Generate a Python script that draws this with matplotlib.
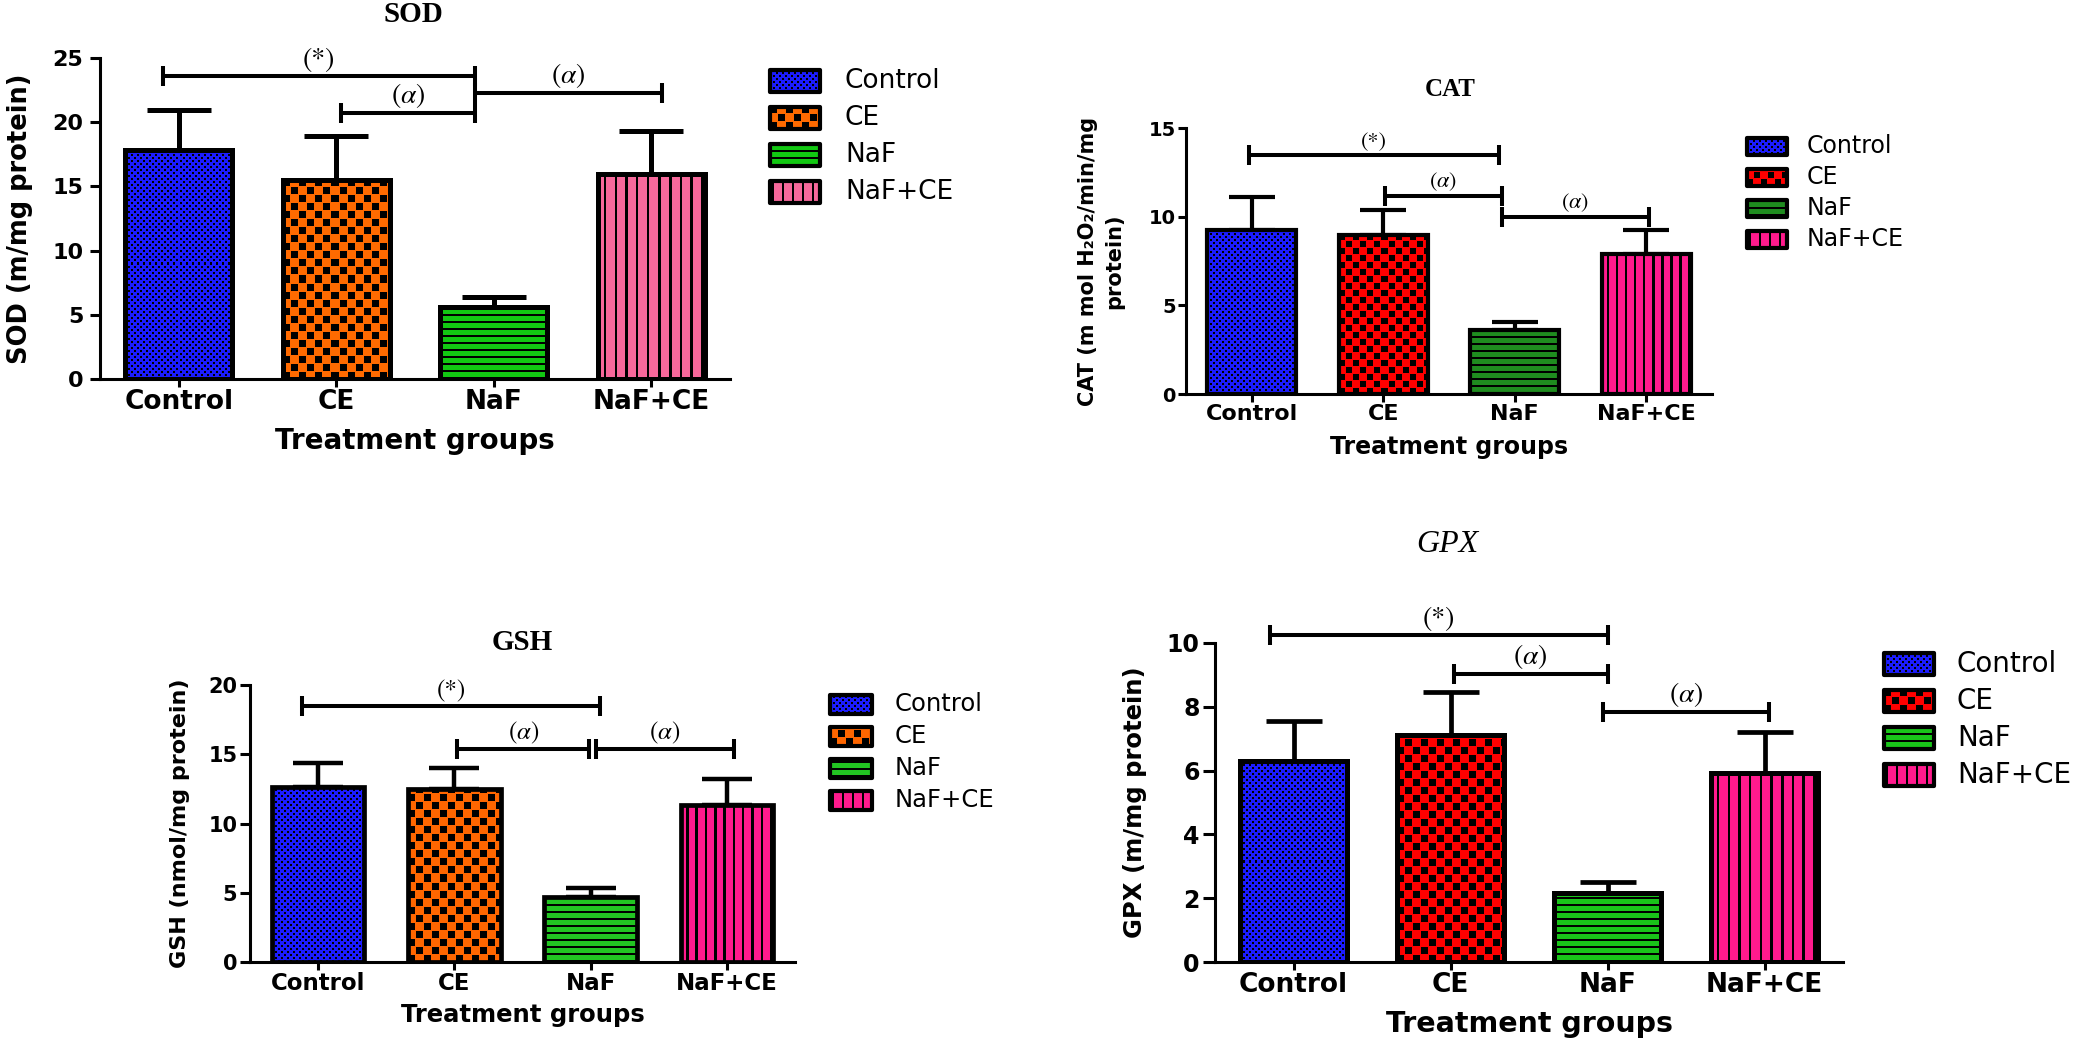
import numpy as np
import matplotlib
matplotlib.use('Agg')
import matplotlib.pyplot as plt
from matplotlib.colors import to_rgb
from matplotlib.patches import Rectangle

plt.rcParams['font.family'] = 'DejaVu Sans'
plt.rcParams['mathtext.fontset'] = 'stix'

# data (mean and upper error, per group)
groups = ['Control', 'CE', 'NaF', 'NaF+CE']
sod_mean = [17.85, 15.5, 5.6, 16.0]
sod_err = [3.1, 3.4, 0.75, 3.3]
cat_mean = [9.23, 8.95, 3.59, 7.91]
cat_err = [1.87, 1.41, 0.47, 1.36]
gsh_mean = [12.6, 12.52, 4.69, 11.3]
gsh_err = [1.75, 1.52, 0.65, 1.9]
gpx_mean = [6.31, 7.11, 2.16, 5.92]
gpx_err = [1.26, 1.36, 0.34, 1.28]

# significance brackets: (label, from x, to x, height)
sod_sig = [('*', -0.1, 1.88, 23.6), ('a', 1.03, 1.88, 20.7), ('a', 1.88, 3.07, 22.3)]
cat_sig = [('*', -0.02, 1.88, 13.5), ('a', 1.01, 1.9, 11.15), ('a', 1.9, 3.02, 10.0)]
gsh_sig = [('*', -0.12, 2.07, 18.5), ('a', 1.02, 1.99, 15.4), ('a', 2.04, 3.05, 15.4)]
gpx_sig = [('*', -0.15, 2.0, 10.26), ('a', 1.02, 2.0, 9.04), ('a', 1.97, 3.03, 7.84)]

W, H = 2091, 1042
kinds = ['fine', 'checker', 'hlines', 'vlines']


def texture(kind, color, w, h, cell=8):
    w = max(int(round(w)), 1)
    h = max(int(round(h)), 1)
    yy, xx = np.mgrid[0:h, 0:w]
    yy = h - 1 - yy
    if kind == 'fine':
        dark = ((xx // 3 + yy // 3) % 2 == 0) & (xx % 3 < 2) & (yy % 3 < 2)
    elif kind == 'checker':
        dark = ((xx // cell + yy // cell) % 2 == 0) & (xx % cell < cell - 1) & (yy % cell < cell - 1)
    elif kind == 'hlines':
        dark = (yy % 7) < 2
    else:
        per = max(w / 10.0, 6)
        dark = ((xx + per / 2) % per) < 2.5
    img = np.ones((h, w, 3)) * np.array(to_rgb(color))
    img[dark] = 0
    return img


fig = plt.figure(figsize=(W / 100, H / 100), dpi=100)

panels = [
    dict(mean=sod_mean, err=sod_err, sig=sod_sig, box=(100, 58, 730, 379), ymax=25, step=5,
         colors=['#1c1cff', '#ff6a00', '#12c812', '#f7689b'], cell=8,
         title='SOD', tpos=(413, 15), tfs=21, tstyle='normal',
         ylabel='SOD (m/mg protein)', ylx=20, xlab_y=441,
         xt=19, yt=16, xl=20, yl=18.5, sfs=20, blw=3.6, elw=3.6, cs=23, ylen=7, ypad=5,
         leg=dict(px=770, pw=50, ph=22, rows=81, dy=37, tx=845, fs=19)),
    dict(mean=cat_mean, err=cat_err, sig=cat_sig, box=(1186, 128, 1712, 394), ymax=15, step=5,
         colors=['#1c1cff', '#ff0000', '#1f8c1f', '#ff1a8d'], cell=7,
         title='CAT', tpos=(1450, 90), tfs=18, tstyle='normal',
         ylabel='CAT (m mol H\u2082O\u2082/min/mg\nprotein)', ylx=1101, xlab_y=447,
         xt=16, yt=14, xl=17, yl=15, sfs=16, blw=3.0, elw=3.0, cs=16.5, ylen=6, ypad=1.5,
         leg=dict(px=1747, pw=40, ph=17, rows=146, dy=31, tx=1807, fs=17)),
    dict(mean=gsh_mean, err=gsh_err, sig=gsh_sig, box=(250, 685, 795, 962), ymax=20, step=5,
         colors=['#1c1cff', '#ff6600', '#22c422', '#ff1a8d'], cell=8,
         title='GSH', tpos=(522, 643), tfs=21, tstyle='normal',
         ylabel='GSH (nmol/mg protein)', ylx=180, xlab_y=1015,
         xt=16.5, yt=15, xl=17.5, yl=16, sfs=18, blw=3.4, elw=3.2, cs=18, ylen=7, ypad=2,
         leg=dict(px=830, pw=42, ph=19, rows=704, dy=32, tx=895, fs=17.5)),
    dict(mean=gpx_mean, err=gpx_err, sig=gpx_sig, box=(1215, 643, 1843, 962), ymax=10, step=2,
         colors=['#1c1cff', '#ff0000', '#19c419', '#ff1a8d'], cell=8,
         title='GPX', tpos=(1447, 545), tfs=23, tstyle='italic',
         ylabel='GPX (m/mg protein)', ylx=1135, xlab_y=1024,
         xt=19, yt=17, xl=20.5, yl=17.5, sfs=20, blw=3.6, elw=3.4, cs=20.5, ylen=9, ypad=2,
         leg=dict(px=1884, pw=50, ph=22, rows=664, dy=37, tx=1957, fs=20)),
]

ov = fig.add_axes([0, 0, 1, 1])
ov.axis('off')
ov.set_zorder(10)

for p in panels:
    l, t, r, b = p['box']
    ax = fig.add_axes([l / W, 1 - b / H, (r - l) / W, (b - t) / H])
    x = np.arange(len(groups))
    ax.set_xlim(-0.5, 3.5)
    ax.set_ylim(0, p['ymax'])

    bars = ax.bar(x, p['mean'], width=0.68, facecolor='none', edgecolor='black',
                  linewidth=p['blw'], zorder=3)
    ax.errorbar(x, p['mean'], yerr=[np.zeros(len(x)), p['err']], fmt='none', ecolor='black',
                elinewidth=p['elw'], capsize=p['cs'], capthick=p['elw'], zorder=1)

    for bar, kind, col in zip(bars, kinds, p['colors']):
        x0, y0 = bar.get_x(), bar.get_y()
        x1, y1 = x0 + bar.get_width(), y0 + bar.get_height()
        (qx0, qy0), (qx1, qy1) = ax.transData.transform([(x0, y0), (x1, y1)])
        img = texture(kind, col, qx1 - qx0, qy1 - qy0, p['cell'])
        im = ax.imshow(img, extent=(x0, x1, y0, y1), aspect='auto',
                       interpolation='nearest', zorder=2)
        im.set_clip_path(bar)
    ax.set_xlim(-0.5, 3.5)
    ax.set_ylim(0, p['ymax'])

    # significance brackets
    ppu = (b - t) / p['ymax']
    d = 10 / ppu
    for lab, a, c, yv in p['sig']:
        kw = dict(color='black', lw=2.9, solid_capstyle='butt', clip_on=False, zorder=4)
        ax.plot([a, c], [yv, yv], **kw)
        ax.plot([a, a], [yv - d, yv + d], **kw)
        ax.plot([c, c], [yv - d, yv + d], **kw)
        txt = '(*)' if lab == '*' else r'$(\alpha)$'
        ax.annotate(txt, xy=((a + c) / 2, yv), xytext=(0, 2), textcoords='offset points',
                    ha='center', va='bottom', fontsize=p['sfs'], family='STIXGeneral',
                    annotation_clip=False)

    ax.set_xticks(x)
    ax.set_xticklabels(groups, fontsize=p['xt'], fontweight='bold')
    ax.set_yticks(np.arange(0, p['ymax'] + 0.1, p['step']))
    ax.set_yticklabels([str(int(v)) for v in np.arange(0, p['ymax'] + 0.1, p['step'])],
                       fontsize=p['yt'], fontweight='bold')
    ax.tick_params(axis='x', length=6, width=2.2, pad=1.5)
    ax.tick_params(axis='y', length=p['ylen'], width=2.2, pad=p['ypad'])
    for s in ['top', 'right']:
        ax.spines[s].set_visible(False)
    for s in ['left', 'bottom']:
        ax.spines[s].set_linewidth(2.2)

    ax.set_xlabel('Treatment groups', fontsize=p['xl'], fontweight='bold', va='center')
    ax.xaxis.set_label_coords(0.5, -(p['xlab_y'] - b) / (b - t))
    ax.set_ylabel(p['ylabel'], fontsize=p['yl'], fontweight='bold', va='center',
                  linespacing=1.4)
    ax.yaxis.set_label_coords((p['ylx'] - l) / (r - l), 0.5)

    tx, ty = p['tpos']
    fig.text(tx / W, 1 - ty / H, p['title'], ha='center', va='center', family='Liberation Serif',
             fontweight='bold' if p['tstyle'] == 'normal' else 'normal', style=p['tstyle'],
             fontsize=p['tfs'])

    # legend
    lg = p['leg']
    for i, (name, kind, col) in enumerate(zip(groups, kinds, p['colors'])):
        cy = lg['rows'] + i * lg['dy']
        y0 = cy - lg['ph'] / 2
        img = texture(kind, col, lg['pw'], lg['ph'], p['cell'])
        if kind == 'vlines':
            img[:] = to_rgb(col)
            img[:, 2::10] = 0
            img[:, 3::10] = 0
        ov.imshow(img, extent=(lg['px'], lg['px'] + lg['pw'], y0 + lg['ph'], y0),
                  aspect='auto', interpolation='nearest')
        ov.add_patch(Rectangle((lg['px'], y0), lg['pw'], lg['ph'], fill=False,
                               edgecolor='black', lw=3, joinstyle='round'))
        ov.text(lg['tx'], cy, name, ha='left', va='center', fontsize=lg['fs'])

ov.set_xlim(0, W)
ov.set_ylim(H, 0)

fig.savefig('out.png', dpi=100)
